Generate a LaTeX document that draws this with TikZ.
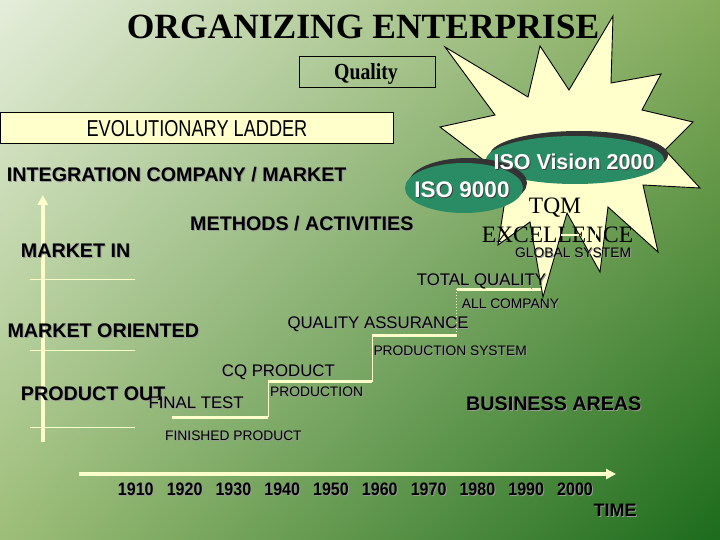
\documentclass[tikz,border=0pt]{standalone}
\usepackage{fontspec}
\setmainfont{Liberation Serif}
\newfontfamily\sansf{Liberation Sans}
\newfontfamily\sansyr[FakeStretch=0.89]{Liberation Sans}
\newfontfamily\sanslad[FakeStretch=0.79]{Liberation Sans}
\newfontfamily\serifn[FakeStretch=0.86]{Liberation Serif}
\usetikzlibrary{arrows.meta,shadings}
\definecolor{bgUL}{HTML}{E4EDDA}
\definecolor{bgUR}{HTML}{86AD5C}
\definecolor{bgLL}{HTML}{9DBE78}
\definecolor{bgLR}{HTML}{1C6B1C}
\definecolor{lightyel}{HTML}{FFFFCC}
\definecolor{isogreen}{HTML}{2A8C64}
\definecolor{isoshadow}{HTML}{333333}
\newcommand\shd[2][black!40]{\makebox[0pt][l]{\hspace{1pt}\raisebox{-1pt}{\textcolor{#1}{#2}}}#2}
\tikzset{
  lbl/.style={inner sep=0pt, anchor=base west},
  bigl/.style={lbl, font=\sansf\bfseries\fontsize{19.7}{22}\selectfont},
  midl/.style={lbl, font=\sansf\fontsize{16.8}{19}\selectfont},
  smll/.style={lbl, font=\sansf\fontsize{13.8}{16}\selectfont},
  yearl/.style={inner sep=0pt, anchor=base, font=\sansyr\bfseries\fontsize{18}{20}\selectfont},
  isotext/.style={inner sep=0pt, anchor=base, text=white, font=\sansf\bfseries},
  serifl/.style={inner sep=0pt, anchor=base, font=\rmfamily\fontsize{23.5}{26}\selectfont},
  axisline/.style={draw=lightyel, line width=4.3pt, -{Triangle[length=10pt,width=10pt]}},
  tickline/.style={draw=lightyel, line width=0.9pt},
  stepline/.style={draw=lightyel, line width=3pt},
  riserline/.style={draw=lightyel, line width=1pt},
  dotriser/.style={draw=lightyel, line width=1pt, dotted},
  starshape/.style={fill=lightyel, draw=black, line width=0.9pt, line join=miter},
  boxq/.style={draw=black, line width=1pt},
}
\begin{document}
\begin{tikzpicture}[x=1pt,y=-1pt]
\useasboundingbox (0,0) rectangle (720,540);
\shade[upper left=bgUL, upper right=bgUR, lower left=bgLL, lower right=bgLR] (0,0) rectangle (720,540);

% vertical axis
\coordinate (va) at (42.8,441.7);
\coordinate (vb) at (42.8,195);
\draw[axisline] (va) -- (vb);
% ticks
\coordinate (t1a) at (30,279.3); \coordinate (t1b) at (135,279.3);
\coordinate (t2a) at (30,350.7); \coordinate (t2b) at (135,350.7);
\coordinate (t3a) at (30,427.7); \coordinate (t3b) at (135,427.7);
\draw[tickline] (t1a) -- (t1b);
\draw[tickline] (t2a) -- (t2b);
\draw[tickline] (t3a) -- (t3b);
% time axis
\coordinate (ta) at (79,474);
\coordinate (tb) at (616,474);
\draw[axisline] (ta) -- (tb);

% staircase
\coordinate (s1a) at (171.7,417.3); \coordinate (s1b) at (268.3,417.3);
\coordinate (s2a) at (268.3,381.7); \coordinate (s2b) at (372.2,381.7);
\coordinate (s3a) at (372.2,335);   \coordinate (s3b) at (456.7,335);
\coordinate (s4a) at (456.7,289.3); \coordinate (s4b) at (541.7,289.3);
\coordinate (r4a) at (531,289.3);   \coordinate (r4b) at (531,235);
\draw[stepline] (s1a) -- (s1b);
\draw[riserline] (s1b) -- (s2a);
\draw[stepline] (s2a) -- (s2b);
\draw[riserline] (s2b) -- (s3a);
\draw[stepline] (s3a) -- (s3b);
\draw[dotriser] (s3b) -- (s4a);
\draw[stepline] (s4a) -- (s4b);

% starburst
\draw[starshape] (613,16) -- (611,83) -- (661,74) -- (642,110) -- (693,122) -- (665,150)
  -- (700,188) -- (643,185) -- (658,252) -- (608,207) -- (600,272) -- (567,213)
  -- (543,297) -- (530,222) -- (498,245) -- (505,200) -- (490,165) -- (440,127)
  -- (495,115) -- (445,47) -- (528,97) -- (540,46) -- (569,90) -- cycle;

% title and boxes
\node[inner sep=0pt, anchor=base, font=\rmfamily\bfseries\fontsize{35.5}{38}\selectfont] (title) at (363,38.3) {ORGANIZING ENTERPRISE};
\draw[boxq] (299,57) rectangle (435,88);
\node[inner sep=0pt, anchor=base, font=\serifn\bfseries\fontsize{23}{25}\selectfont] (quality) at (366,79.5) {Quality};
\draw[boxq, fill=lightyel] (0.5,113) rectangle (393,144);
\node[inner sep=0pt, anchor=base, font=\sanslad\fontsize{23}{25}\selectfont] (ladder) at (197,136.5) {EVOLUTIONARY LADDER};

% ellipses
\fill[isoshadow] (579,155) ellipse [x radius=89, y radius=24];
\fill[isogreen] (575,160) ellipse [x radius=89, y radius=24];
\fill[isoshadow] (468,183) ellipse [x radius=59, y radius=25];
\fill[isogreen] (464,188) ellipse [x radius=59, y radius=25];
\node[isotext, font=\sansf\bfseries\fontsize{21.5}{24}\selectfont] (isov) at (574,170) {\shd[black!75]{ISO Vision 2000}};
\node[isotext, font=\sansf\bfseries\fontsize{22.5}{25}\selectfont] (iso9) at (462,197.3) {\shd[black!75]{ISO 9000}};

% star texts
\node[serifl] (tqm) at (555,213.3) {TQM};
\node[serifl] (exc) at (557.5,242) {EXCELLENCE};
\node[smll] (glob) at (515,258) {\shd{GLOBAL SYSTEM}};
\draw[dotriser, draw=black!45] (r4a) -- (r4b);
\coordinate (s5a) at (561,235); \coordinate (s5b) at (579,235);
\draw[draw=lightyel, line width=2pt] (s5a) -- (s5b);
\coordinate (r5a) at (595,240); \coordinate (r5b) at (595,217);
\draw[draw=lightyel, line width=0.8pt] (r5a) -- (r5b);

% left labels
\node[bigl] (integ) at (6.7,182) {\shd{INTEGRATION COMPANY / MARKET}};
\node[bigl] (methods) at (190,230) {\shd{METHODS / ACTIVITIES}};
\node[bigl] (mktin) at (20.7,258) {\shd{MARKET IN}};
\node[bigl] (mktor) at (7.3,337) {\shd{MARKET ORIENTED}};
\node[bigl] (prodout) at (20.7,400) {\shd{PRODUCT OUT}};
\node[bigl] (business) at (466,410) {\shd{BUSINESS AREAS}};

% ladder labels
\node[midl] (final) at (148.3,408) {\shd{FINAL TEST}};
\node[smll] (finished) at (165,440) {\shd{FINISHED PRODUCT}};
\node[midl] (cq) at (221.7,376.7) {\shd{CQ PRODUCT}};
\node[smll] (production) at (270,396.7) {\shd{PRODUCTION}};
\node[midl] (qa) at (287.3,328.3) {\shd{QUALITY ASSURANCE}};
\node[smll] (prodsys) at (373.3,355) {\shd{PRODUCTION SYSTEM}};
\node[midl] (tq) at (416.7,285) {\shd{TOTAL QUALITY}};
\node[smll] (allco) at (461.7,308) {\shd{ALL COMPANY}};

% years
\foreach \yr [count=\i from 0] in {1910,1920,1930,1940,1950,1960,1970,1980,1990,2000} {
  \node[yearl] (y\yr) at (135.8+48.8*\i,495.5) {\shd{\yr}};
}
\node[inner sep=0pt, anchor=base, font=\sansf\bfseries\fontsize{18}{20}\selectfont] (time) at (615,516) {\shd{TIME}};
\end{tikzpicture}
\end{document}
